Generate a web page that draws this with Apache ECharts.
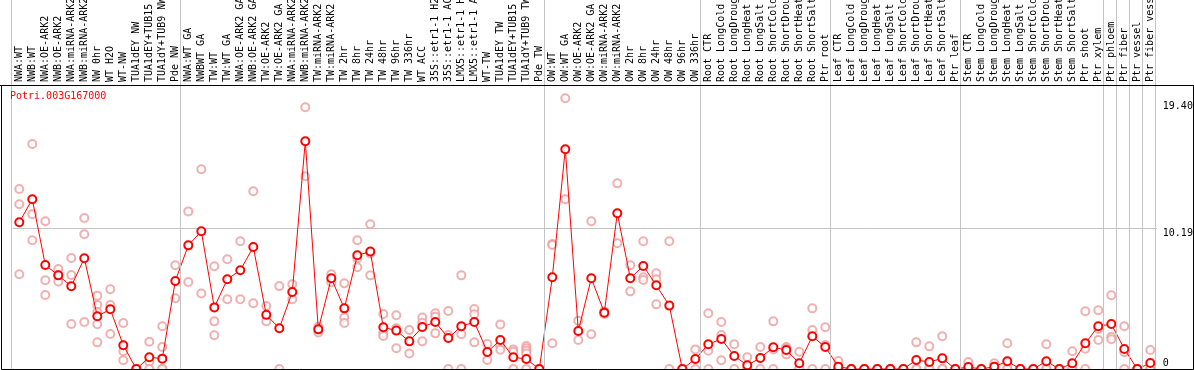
<!DOCTYPE html>
<html>
<head>
<meta charset="utf-8">
<script src="https://cdn.jsdelivr.net/npm/echarts@6/dist/echarts.min.js"></script>
<style>
html,body{margin:0;padding:0;background:#fff;}
#chart{width:1194px;height:370px;}
</style>
</head>
<body>
<div id="chart"></div>
<script>
var geneName = 'Potri.003G167000';

var categories = [
  'NWA:WT','NWB:WT','NWA:OE-ARK2','NWB:OE-ARK2','NWA:miRNA-ARK2','NWB:miRNA-ARK2','NW 0hr','WT H2O','WT-NW',
  'TUA1dEY NW','TUA1dEY+TUB15 NW','TUA1dY+TUB9 NW','Pde NW',
  'NWA:WT GA','NWBWT GA','TW:WT','TW:WT GA','NWA:OE-ARK2 GA','NWB:OE-ARK2 GA','TW:OE-ARK2','TW:OE-ARK2 GA',
  'NWA:miRNA-ARK2 GA','NWB:miRNA-ARK2 GA','TW:miRNA-ARK2','TW:miRNA-ARK2 GA',
  'TW 2hr','TW 8hr','TW 24hr','TW 48hr','TW 96hr','TW 336hr','WT ACC',
  '35S::etr1-1 H2O','35S::etr1-1 ACC','LMX5::etr1-1 H2O','LMX5::etr1-1 ACC','WT-TW',
  'TUA1dEY TW','TUA1dEY+TUB15 TW','TUA1dY+TUB9 TW','Pde TW',
  'OW:WT','OW:WT GA','OW:OE-ARK2','OW:OE-ARK2 GA','OW:miRNA-ARK2','OW:miRNA-ARK2 GA',
  'OW 2hr','OW 8hr','OW 24hr','OW 48hr','OW 96hr','OW 336hr',
  'Root CTR','Root LongCold','Root LongDrought','Root LongHeat','Root LongSalt',
  'Root ShortCold','Root ShortDrought','Root ShortHeat','Root ShortSalt','Ptr root',
  'Leaf CTR','Leaf LongCold','Leaf LongDrought','Leaf LongHeat','Leaf LongSalt',
  'Leaf ShortCold','Leaf ShortDrought','Leaf ShortHeat','Leaf ShortSalt','Ptr leaf',
  'Stem CTR','Stem LongCold','Stem LongDrought','Stem LongHeat','Stem LongSalt',
  'Stem ShortCold','Stem ShortDrought','Stem ShortHeat','Stem ShortSalt','Ptr shoot','Ptr xylem',
  'Ptr phloem','Ptr fiber','Ptr vessel','Ptr fiber vessel'
];

// group separators (category boundary indices)
var groupBoundaries = [0, 13, 41, 53, 63, 73, 84, 85, 86, 87, 88];

var means = [
  10.62,12.29,7.53,6.78,5.99,8.02,3.82,4.32,1.72,0,0.85,0.75,6.37,
  8.95,9.97,4.46,6.50,7.15,8.83,3.92,2.95,5.58,16.49,2.87,6.57,
  4.39,8.23,8.50,3.02,2.78,2.00,3.04,3.40,2.24,3.09,3.40,1.23,2.10,0.85,0.72,0,
  6.64,15.91,2.75,6.57,4.08,11.27,6.57,7.46,6.06,4.59,0,0.72,
  1.79,2.17,0.94,0.27,0.80,1.57,1.38,0.41,2.37,1.59,
  0.17,0,0,0,0,0,0.65,0.51,0.77,0,
  0.14,0,0.17,0.56,0,0,0.56,0,0.41,1.86,3.09,
  3.26,1.45,0,0.43
];

var replicates = [
  [13.03,11.93,6.86],[16.29,11.20,9.32],[10.69,6.42,5.36],[7.24,6.81,6.33],[8.04,6.81,3.26],
  [10.93,9.75,3.40],[5.31,4.63,4.13,3.24,1.93],[5.77,4.63,2.53],[3.33,1.29,0.63],[0,0,0],
  [1.98,0.53,0],[3.09,1.59,0,0],[7.51,5.12],
  [11.41,6.30],[14.46,5.47],[7.44,3.45,2.44],[7.94,5.05],[9.25,5.05],[12.87,4.76],[4.56,3.45],
  [6.00,0],[6.14,5.05],[18.95,13.95],[3.06,2.65],[6.86,6.28],
  [6.20,3.72,3.33],[9.32,8.01,7.36],[10.48,8.37,6.78],[3.98,2.58,2.39],[3.89,2.95,1.50],
  [2.82,1.13],[3.72,3.35,2.00],[4.03,3.79,2.58],[4.20,2.46,0],[6.78,2.51,0],[4.34,3.96,1.93],
  [1.81,0.65],[3.23,1.67,1.40],[1.42,1.25,0],[1.67,1.50,1.33,1.13,0],[0,0,0],
  [9.05,8.98,1.86],[19.60,12.29],[3.50,2.10],[10.69,2.51],[4.17,3.98],[13.44,9.10],
  [7.51,5.62],[9.25,6.64,6.44],[6.93,6.50,4.68],[9.25,0],[0,0],[1.42,0],
  [4.03,1.33,0],[3.40,2.46,0.63],[1.79,0],[0.85,0,0],[1.59,0],[3.45,1.42,0],[1.59,1.48,1.06],
  [1.25,0,0],[4.39,2.82,0],[3.02,1.74,0],
  [0.58,0,0],[0,0],[0,0],[0,0],[0,0],[0,0],[1.93,0,0],[1.64,0,0],[2.37,0,0],[0,0],
  [0.51,0,0],[0,0],[0.41,0,0],[1.86,0,0],[0,0],[0,0],[1.79,0,0],[0,0],[1.29,0,0],
  [4.18,1.47,0],[4.25,2.90,2.10],
  [5.34,2.34,2.15],[3.09,1.21,0],[0,0],[1.38,0,0]
];

var yTickValues = [0, 10.19, 19.40];
var yTickLabels = ['0', '10.19', '19.40'];
var yMax = 20.56;
var gridLineValue = 10.19;

var repPoints = [];
replicates.forEach(function (arr, i) {
  arr.forEach(function (v) { repPoints.push([i, v]); });
});

var mono = 'DejaVu Sans Mono';
var chart = echarts.init(document.getElementById('chart'), null, {renderer: 'canvas'});
chart.setOption({
  animation: false,
  backgroundColor: '#fff',
  title: {
    text: geneName, left: 10, top: 91, padding: 0,
    textStyle: {color: '#ff0000', fontSize: 10, fontWeight: 'normal', fontFamily: mono}
  },
  grid: [
    {left: 12.8, width: 1144, top: 85, bottom: 1, containLabel: false, outerBoundsMode: 'none'},
    {left: 11.5, width: 1144, top: 0, bottom: 1, containLabel: false, outerBoundsMode: 'none'}
  ],
  xAxis: [
    {
      type: 'category', gridIndex: 0, position: 'top', data: categories, boundaryGap: true,
      axisLine: {show: false}, axisTick: {show: false}, splitLine: {show: false},
      axisLabel: {interval: 0, rotate: 90, margin: 3, fontSize: 10, fontFamily: mono, color: '#000', hideOverlap: false}
    },
    {type: 'value', gridIndex: 1, min: 0, max: 88, show: false}
  ],
  yAxis: [
    {
      type: 'value', gridIndex: 0, position: 'right', min: 0, max: yMax,
      axisLine: {show: false}, axisTick: {show: false}, splitLine: {show: false},
      axisLabel: {
        customValues: yTickValues, margin: 6, fontSize: 10, fontFamily: mono, color: '#000', lineHeight: 11,
        formatter: function (v) {
          var idx = 0, best = 1e9;
          yTickValues.forEach(function (t, j) { if (Math.abs(t - v) < best) { best = Math.abs(t - v); idx = j; } });
          return idx === 0 ? yTickLabels[idx] + '\n' : '\n' + yTickLabels[idx];
        }
      }
    },
    {type: 'value', gridIndex: 1, min: 0, max: 1, show: false}
  ],
  series: [
    {
      type: 'line', xAxisIndex: 1, yAxisIndex: 1, data: [[0, 0]], symbol: 'none',
      lineStyle: {opacity: 0}, silent: true, z: 1,
      markLine: {
        silent: true, symbol: ['none', 'none'], label: {show: false},
        lineStyle: {color: '#c4c4c4', width: 1, type: 'solid'},
        data: groupBoundaries.map(function (k) { return {xAxis: k}; })
      }
    },
    {
      type: 'scatter', xAxisIndex: 0, yAxisIndex: 0, data: repPoints,
      symbol: 'emptyCircle', symbolSize: 8, z: 2,
      itemStyle: {color: '#ee9c9c', borderColor: '#ee9c9c', borderWidth: 1.1}
    },
    {
      type: 'line', xAxisIndex: 0, yAxisIndex: 0, data: means,
      symbol: 'emptyCircle', symbolSize: 8, z: 3,
      lineStyle: {color: '#ff0000', width: 1},
      itemStyle: {color: '#ff0000', borderColor: '#ff0000', borderWidth: 1.2},
      markLine: {
        silent: true, symbol: ['none', 'none'], label: {show: false},
        lineStyle: {color: '#c4c4c4', width: 1, type: 'solid'},
        data: [{yAxis: gridLineValue}], z: 1
      }
    }
  ],
  graphic: [
    {type: 'rect', z: 100, silent: true, shape: {x: 1.5, y: 85.5, width: 1192, height: 284},
     style: {fill: 'none', stroke: '#000', lineWidth: 1}},
    {type: 'line', z: 100, silent: true, shape: {x1: 0, y1: 85.5, x2: 1194, y2: 85.5},
     style: {stroke: '#000', lineWidth: 1}}
  ]
});
</script>
</body>
</html>
